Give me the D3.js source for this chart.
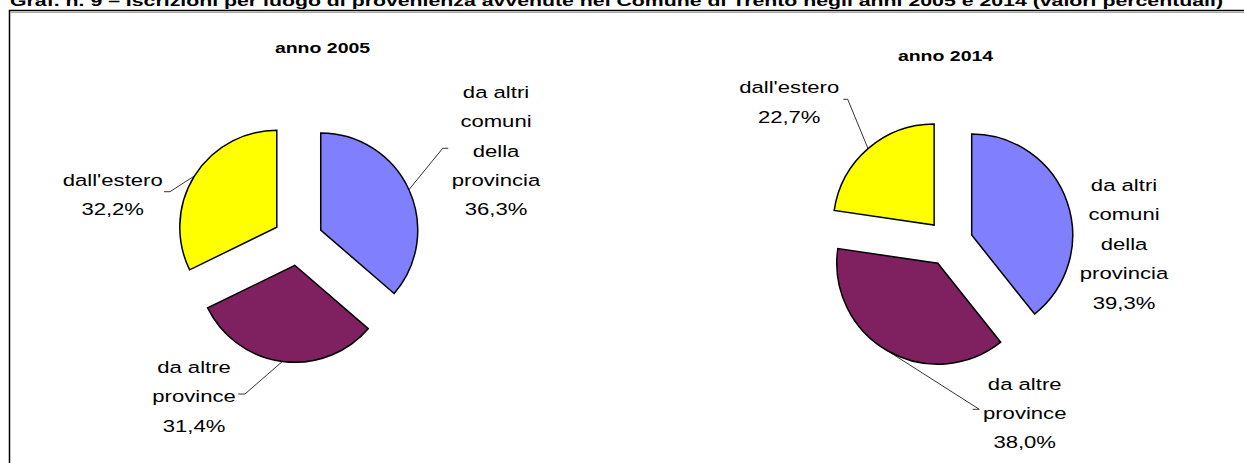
<!DOCTYPE html>
<html>
<head>
<meta charset="utf-8">
<script src="https://cdn.jsdelivr.net/npm/d3@7"></script>
<style>
  body { margin: 0; background: #fff; }
  svg { display: block; font-family: Arial, "Liberation Sans", sans-serif; }
</style>
</head>
<body>
<svg id="chart" width="1244" height="463"></svg>
<script>
// data
const categories = ["da altri comuni della provincia", "da altre province", "dall'estero"];
const labelLines = [["da altri", "comuni", "della", "provincia"], ["da altre", "province"], ["dall'estero"]];
const years = ["anno 2005", "anno 2014"];
const values2005 = [36.3, 31.4, 32.2];
const values2014 = [39.3, 38.0, 22.7];
const colors = ["#8080FF", "#7F2060", "#FFFF00"];
const chartTitle = "Graf. n. 9 \u2013 Iscrizioni per luogo di provenienza avvenute nel Comune di Trento negli anni 2005 e 2014 (valori percentuali)";

const svg = d3.select("#chart");
const sx = 1.3; // text is drawn wider than tall

// frame
svg.append("rect")
  .attr("x", 9.5).attr("y", 10.5)
  .attr("width", 1300).attr("height", 500)
  .attr("fill", "none").attr("stroke", "#000").attr("stroke-width", 1.5);
svg.append("line")
  .attr("x1", 10).attr("x2", 1244).attr("y1", 12.5).attr("y2", 12.5)
  .attr("stroke", "#aaa").attr("stroke-width", 1);

// main title, cut at the top
svg.append("text")
  .attr("x", 10).attr("y", 6)
  .attr("font-size", 15).attr("font-weight", "bold")
  .attr("textLength", 1213).attr("lengthAdjust", "spacingAndGlyphs")
  .text(chartTitle);

function fmt(v) { return v.toFixed(1).replace(".", ",") + "%"; }

function wideText(g, x, y, str, size, weight) {
  g.append("text")
    .attr("transform", `translate(${x},${y}) scale(${sx},1)`)
    .attr("text-anchor", "middle")
    .attr("font-size", size)
    .attr("font-weight", weight || "normal")
    .attr("fill", "#000")
    .text(str);
}

// layout per pie: centre, radius, explosion, title and label placement
const layouts = [
  {
    values: values2005, title: years[0],
    cx: 298, cy: 240.5, r: 97, explode: 25,
    titleX: 322.5, titleY: 53.3,
    labels: [
      { x: 496, y: 97.7, leader: [[442.7, 148.3], [448.3, 148.3]] },
      { x: 194, y: 372.7, leader: [[245, 394], [238.3, 394]] },
      { x: 112.7, y: 185.5, leader: [[170, 191.7], [164, 191.7]] }
    ]
  },
  {
    values: values2014, title: years[1],
    cx: 949.5, cy: 242.8, r: 101, explode: 23.5,
    titleX: 945.5, titleY: 60.7,
    labels: [
      { x: 1124, y: 191, leader: null },
      { x: 1024.7, y: 389.5, leader: [[979.3, 409.3], [972.7, 409.3]] },
      { x: 789.2, y: 93.3, leader: [[847.7, 99.3], [843.3, 99.3]] }
    ]
  }
];

const lineH = 29.4;

layouts.forEach(L => {
  const g = svg.append("g");
  wideText(g, L.titleX, L.titleY, L.title, 15, "bold");

  const pie = d3.pie().sort(null).value(d => d)(L.values);
  const arc = d3.arc().innerRadius(0).outerRadius(L.r);
  const edge = d3.arc().innerRadius(L.r).outerRadius(L.r);

  pie.forEach((p, i) => {
    const mid = (p.startAngle + p.endAngle) / 2;
    const dx = L.explode * Math.sin(mid), dy = -L.explode * Math.cos(mid);
    const ox = L.cx + dx, oy = L.cy + dy;

    g.append("path")
      .attr("transform", `translate(${ox},${oy})`)
      .attr("d", arc(p))
      .attr("fill", colors[i])
      .attr("stroke", "#000")
      .attr("stroke-width", 1.5)
      .attr("stroke-linejoin", "miter");

    const lab = L.labels[i];
    if (lab.leader) {
      const e = edge.centroid({ startAngle: mid, endAngle: mid });
      const pts = [[ox + e[0], oy + e[1]]].concat(lab.leader);
      g.append("path")
        .attr("d", d3.line()(pts))
        .attr("fill", "none")
        .attr("stroke", "#000")
        .attr("stroke-width", 0.8);
    }
    const lines = labelLines[i].concat([fmt(L.values[i])]);
    lines.forEach((t, k) => wideText(g, lab.x, lab.y + k * lineH, t, 17));
  });
});
</script>
</body>
</html>
